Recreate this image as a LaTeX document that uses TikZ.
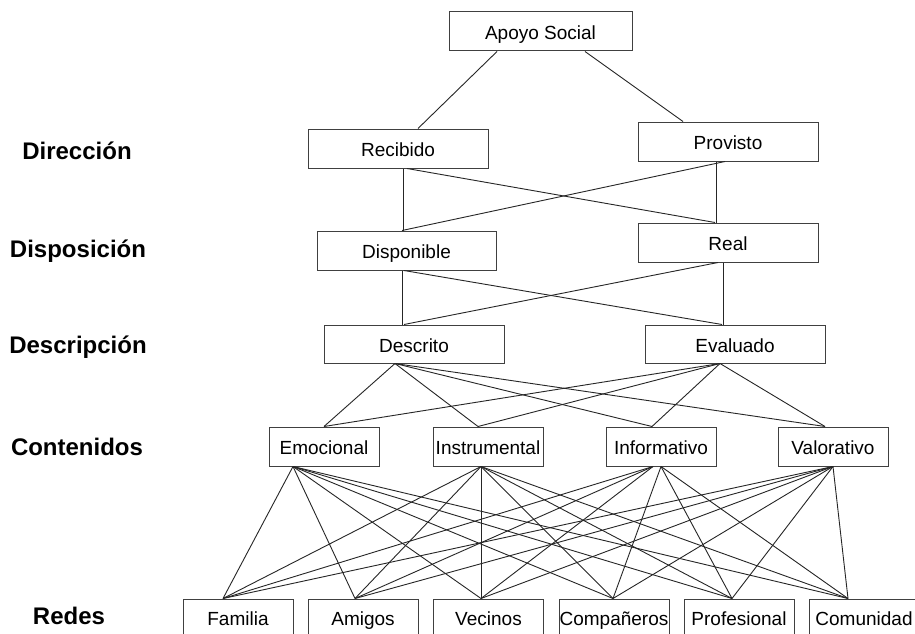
\documentclass[tikz,border=0pt]{standalone}
\usepackage{fontspec}
\setmainfont{Liberation Sans}
\usetikzlibrary{calc}
\begin{document}
\begin{tikzpicture}[x=1pt,y=-1pt,
  box/.style={draw=black!75,line width=1pt,inner sep=0pt,minimum height=39pt,
    text height=17pt,text depth=1pt,font=\fontsize{19}{19}\selectfont},
  rbox/.style={box,minimum width=110pt},
  redbox/.style={box,minimum width=110pt,minimum height=37pt},
  lvl/.style={font=\fontsize{24}{24}\selectfont\bfseries,inner sep=0pt},
  conn/.style={draw=black!85,line width=0.9pt}]
\clip (0,0) rectangle (915,634);
\fill[white] (0,0) rectangle (915,634);

% level labels
\node[lvl] (l1) at (77,151) {Dirección};
\node[lvl] (l2) at (78,251) {Disposición};
\node[lvl] (l3) at (78,347) {Descripción};
\node[lvl] (l4) at (77,447) {Contenidos};
\node[lvl] (l5) at (69,616) {Redes};

% boxes
\node[box,minimum width=183pt] (apoyo) at (540.5,31.5) {Apoyo Social};
\node[box,minimum width=180pt] (rec) at (398,148.5) {Recibido};
\node[box,minimum width=180pt] (prov) at (728,141.5) {Provisto};
\node[box,minimum width=179pt] (disp) at (406.5,250.5) {Disponible};
\node[box,minimum width=180pt] (real) at (728,242.5) {Real};
\node[box,minimum width=180pt,minimum height=38pt] (desc) at (414,344) {Descrito};
\node[box,minimum width=180pt,minimum height=38pt] (eval) at (735,344) {Evaluado};
\node[rbox] (emo) at (324,446.5) {Emocional};
\node[rbox] (ins) at (488,446.5) {Instrumental};
\node[rbox] (inf) at (661,446.5) {Informativo};
\node[rbox] (val) at (833,446.5) {Valorativo};
\node[redbox] (fam) at (238,617.5) {Familia};
\node[redbox] (ami) at (363,617.5) {Amigos};
\node[redbox] (vec) at (488.5,617.5) {Vecinos};
\node[redbox] (comp) at (614,617.5) {Compañeros};
\node[redbox] (prof) at (739,617.5) {Profesional};
\node[redbox] (comu) at (864,617.5) {Comunidad};

% top connections
\draw[conn] ([xshift=-43.5pt]apoyo.south) -- ([xshift=20pt]rec.north);
\draw[conn] ([xshift=44.5pt]apoyo.south) -- ([xshift=-45pt]prov.north);
\draw[conn] ([xshift=5pt]rec.south) -- ([xshift=-3.5pt]disp.north);
\draw[conn] ([xshift=9pt]rec.south) -- ([xshift=-13pt]real.north);
\draw[conn] ([xshift=-12pt]prov.south) -- ([xshift=-12pt]real.north);
\draw[conn] ([xshift=-3pt]prov.south) -- ([xshift=-4.5pt]disp.north);
\draw[conn] ([xshift=-4.5pt]disp.south) -- ([xshift=-12pt]desc.north);
\draw[conn] ([xshift=-2.5pt]disp.south) -- ([xshift=-13pt]eval.north);
\draw[conn] ([xshift=-5pt]real.south) -- ([xshift=-12pt]eval.north);
\draw[conn] ([xshift=-10pt]real.south) -- ([xshift=-10pt]desc.north);

% description to contents
\foreach \c/\cs in {emo/0,ins/-10,inf/-9,val/-8}{
  \draw[conn] ([xshift=-19pt]desc.south) -- ([xshift=\cs pt]\c.north);
  \draw[conn] ([xshift=-15pt]eval.south) -- ([xshift=\cs pt]\c.north);
}

% contents to networks
\foreach \c/\cs in {emo/-31,ins/-7,val/0}{
  \foreach \r/\rs in {fam/-15,ami/-8,vec/-7.5,comp/-1,prof/-7,comu/-16}{
    \draw[conn] ([xshift=\cs pt]\c.south) -- ([xshift=\rs pt]\r.north);
  }
}
\foreach \r/\rs in {fam/-15,ami/-8,vec/-7.5}{
  \draw[conn] ([xshift=-8pt]inf.south) -- ([xshift=\rs pt]\r.north);
}
\foreach \r/\rs in {comp/-1,prof/-7,comu/-16}{
  \draw[conn] (inf.south) -- ([xshift=\rs pt]\r.north);
}
\end{tikzpicture}
\end{document}
